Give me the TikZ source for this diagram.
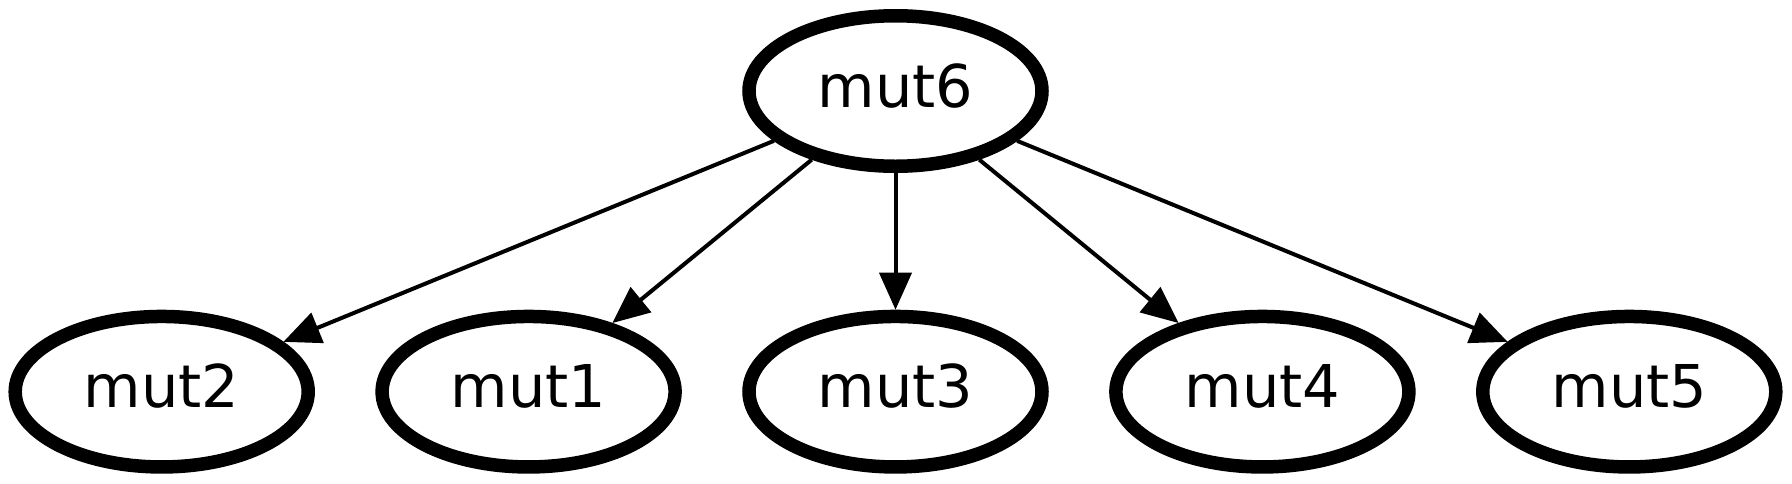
\documentclass[tikz,border=0pt]{standalone}
\usepackage{fontspec}
\setmainfont{DejaVu Sans}
\usetikzlibrary{arrows.meta,shapes.geometric}
\begin{document}
\begin{tikzpicture}[x=1pt,y=-1pt,
  mnode/.style={draw=black, fill=white, line width=13.5pt, ellipse, minimum width=293pt, minimum height=150.5pt, inner sep=0pt, font=\fontsize{59}{70}\selectfont, text height=43pt, text depth=11pt},
  medge/.style={draw=black, line width=4pt, -{Triangle[length=37pt,width=32pt]}}]
\fill[white] (0,0) rectangle (1792,483);
\useasboundingbox (0,0) rectangle (1792,483);
\node[mnode] (mut6) at (895.5,91) {mut6};
\node[mnode] (mut2) at (161.7,391.7) {mut2};
\node[mnode] (mut1) at (528.6,391.7) {mut1};
\node[mnode] (mut3) at (895.5,391.7) {mut3};
\node[mnode] (mut4) at (1262.4,391.7) {mut4};
\node[mnode] (mut5) at (1629.3,391.7) {mut5};
\draw[medge] (mut6) -- (mut2);
\draw[medge] (mut6) -- (mut1);
\draw[medge] (mut6) -- (mut3);
\draw[medge] (mut6) -- (mut4);
\draw[medge] (mut6) -- (mut5);
\end{tikzpicture}
\end{document}
